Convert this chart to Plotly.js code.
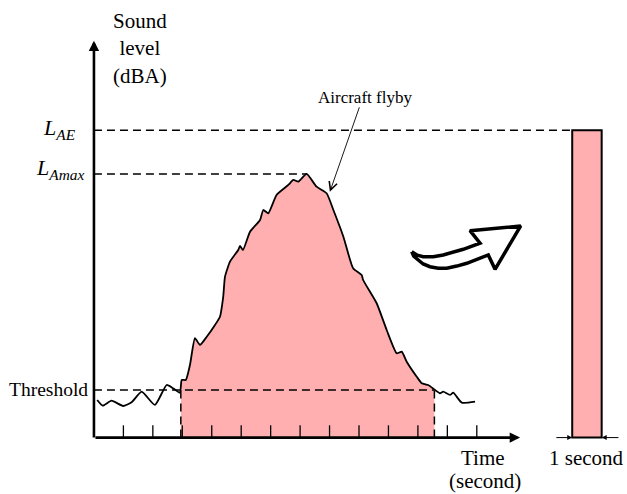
<!DOCTYPE html>
<html>
<head>
<meta charset="utf-8">
<script src="https://cdn.plot.ly/plotly-3.0.1.min.js"></script>
<style>html,body{margin:0;padding:0;background:#fff;}#chart{width:627px;height:494px;}</style>
</head>
<body>
<div id="chart"></div>
<script>
// ---- Data (time in seconds, level in dBA, schematic) ----
const timeTicks = [1,2,3,4,5,6,7,8,9,10,11,12,13];
const curveTime = [0.11,0.30,0.60,0.99,1.28,1.62,2.07,2.47,2.69,2.92,2.98,3.12,3.26,3.43,3.60,3.83,4.11,4.28,4.39,4.45,4.62,4.90,4.96,5.06,5.30,5.64,5.75,5.92,6.20,6.60,6.77,6.94,7.22,7.56,7.90,8.13,8.47,8.80,9.09,9.14,9.60,9.94,10.28,10.45,10.62,10.96,11.13,11.35,11.58,11.75,11.86,12.09,12.20,12.49,12.94];
const curveLevel = [53.57,52.76,53.47,52.71,53.24,54.76,52.86,55.71,55.24,54.61,56.43,56.43,58.57,62.39,61.43,62.61,64.29,65.47,68.33,71.19,73.33,75.00,75.57,75.00,77.61,79.29,80.71,80.24,82.86,84.29,85.00,84.76,85.86,84.04,83.10,80.71,76.90,72.39,71.43,70.71,67.39,63.57,60.24,60.47,59.04,56.90,55.96,55.71,55.00,54.53,54.76,54.29,54.61,53.19,53.33];
const threshold = 55;
const levelAE = 92.1;
const axisFloor = 48.2;
const axisTopLevel = 104.9;
const axisEndTime = 14.47;
const eventStart = 2.95;
const eventEnd = 11.56;
const barCenter = 16.74;
const barDuration = 1;
// decorative curved block arrow outline (same units)
const bigArrowT = [10.79,10.98,11.18,11.52,11.86,12.20,12.54,13.11,12.77,14.49,13.62,13.39,13.02,12.66,12.32,11.98,11.69,11.41,11.18,11.01,10.86,10.79];
const bigArrowL = [74.76,74.25,74.04,74.05,74.29,74.66,75.10,75.96,77.76,78.43,72.24,74.29,73.70,73.10,72.70,72.39,72.38,72.61,73.00,73.57,74.10,74.76];

const levelAmax = Math.max(...curveLevel);
const peakTime = curveTime[curveLevel.indexOf(levelAmax)];

function interp(t){
  for(let i=0;i<curveTime.length-1;i++){
    if(t>=curveTime[i] && t<=curveTime[i+1]){
      const f=(t-curveTime[i])/(curveTime[i+1]-curveTime[i]);
      return curveLevel[i]+f*(curveLevel[i+1]-curveLevel[i]);
    }
  }
  return null;
}
const fillX=[eventStart,eventStart], fillY=[axisFloor,interp(eventStart)];
curveTime.forEach((t,i)=>{ if(t>eventStart && t<eventEnd){fillX.push(t);fillY.push(curveLevel[i]);} });
fillX.push(eventEnd,eventEnd); fillY.push(interp(eventEnd),axisFloor);

const tickX=[], tickY=[];
timeTicks.forEach(t=>{tickX.push(t,t,null);tickY.push(axisFloor,axisFloor+1.75,null);});

const pink='#FFAFAF';
const dashStyle={color:'black',width:1.5,dash:'8px,5px'};

const traces=[
  {type:'scatter',mode:'lines',x:fillX,y:fillY,fill:'toself',fillcolor:pink,line:{width:0},hoverinfo:'skip'},
  {type:'bar',x:[barCenter],y:[levelAE-axisFloor],base:[axisFloor],width:[barDuration],marker:{color:pink,line:{color:'black',width:2}}},
  {type:'scatter',mode:'lines',x:[0,barCenter-barDuration/2],y:[levelAE,levelAE],line:dashStyle},
  {type:'scatter',mode:'lines',x:[0,peakTime],y:[levelAmax,levelAmax],line:dashStyle},
  {type:'scatter',mode:'lines',x:[0,eventEnd],y:[threshold,threshold],line:dashStyle},
  {type:'scatter',mode:'lines',x:[eventStart,eventStart,null,eventEnd,eventEnd],y:[axisFloor,threshold,null,axisFloor,threshold],line:dashStyle},
  {type:'scatter',mode:'lines',x:curveTime,y:curveLevel,line:{color:'black',width:1.8,shape:'spline',smoothing:0.5}},
  {type:'scatter',mode:'lines',x:tickX,y:tickY,line:{color:'black',width:1.3}},
  {type:'scatter',mode:'lines',x:bigArrowT,y:bigArrowL,fill:'toself',fillcolor:'white',line:{color:'black',width:3.5}}
];

const W=627,H=494;
const px=x=>x/W, py=y=>1-y/H;
const serif='Liberation Serif';
function txt(text,x,y,size,xanchor){
  return {text:text,xref:'paper',yref:'paper',x:px(x),y:py(y),xanchor:xanchor||'center',yanchor:'middle',showarrow:false,font:{family:serif,size:size,color:'black'}};
}
function arrow(x,y,ax,ay,w,head,size){
  return {text:'',xref:'x',yref:'y',axref:'x',ayref:'y',x:x,y:y,ax:ax,ay:ay,showarrow:true,arrowhead:head,arrowsize:size,arrowwidth:w,arrowcolor:'black',standoff:0};
}
const annotations=[
  arrow(axisEndTime,axisFloor,0,axisFloor,2.6,2,0.8),
  arrow(0,axisTopLevel,0,axisFloor-0.2,2.6,2,0.8),
  arrow(barCenter-barDuration/2,axisFloor,15.65,axisFloor,1,2,1),
  arrow(barCenter+barDuration/2,axisFloor,17.86,axisFloor,1,2,1),
  arrow(8.01,83.3,9.03,95.6,0.9,5,1.8),
  txt('Sound<br>level<br>(dBA)',140,48,21),
  txt('<i>L</i><sub><i>AE</i></sub>',78,129,22,'right'),
  txt('<i>L</i><sub><i>Amax</i></sub>',86,169,22,'right'),
  txt('Threshold',7,389,19.5,'left'),
  txt('Aircraft flyby',365,97,17),
  txt('Time',483,458,21),
  txt('(second)',485,481,21),
  txt('1 second',586,458,21)
];

const layout={
  width:W,height:H,margin:{l:0,r:0,t:0,b:0},
  paper_bgcolor:'white',plot_bgcolor:'white',showlegend:false,
  font:{family:serif},
  xaxis:{range:[-3.19,18.10],visible:false,fixedrange:true},
  yaxis:{range:[40.14,110.71],visible:false,fixedrange:true},
  annotations:annotations,bargap:0
};
Plotly.newPlot('chart',traces,layout,{staticPlot:true});
</script>
</body>
</html>
